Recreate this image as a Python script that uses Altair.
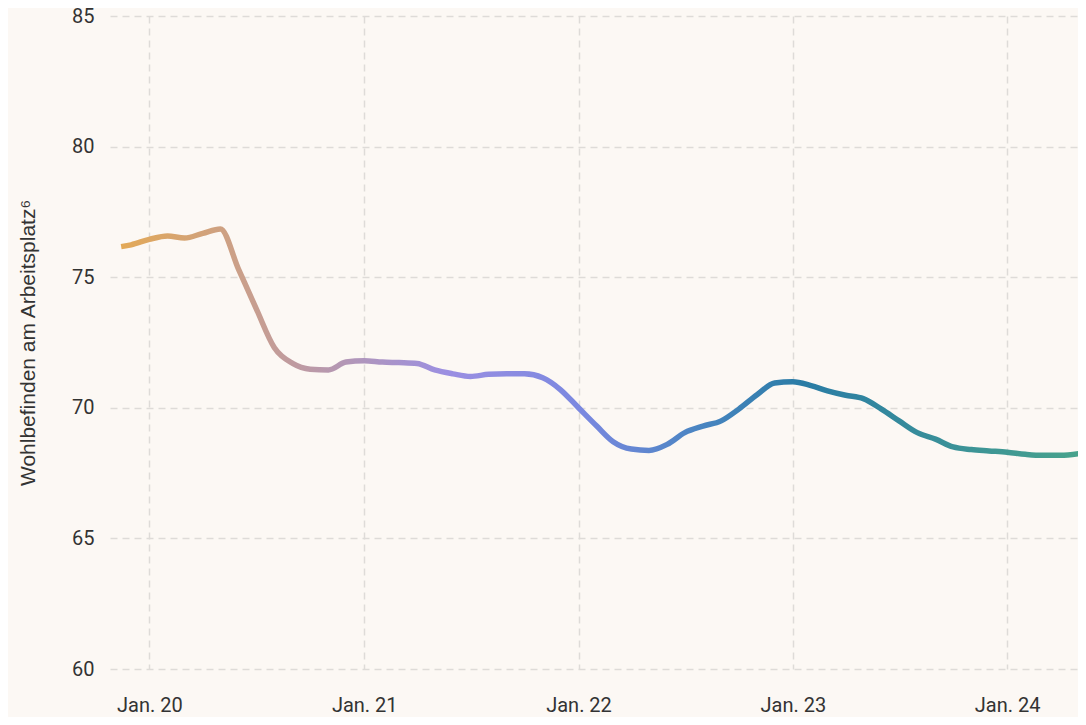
import altair as alt
import pandas as pd

# Values
dates = [
    "2019-11-14", "2019-12-01", "2020-01-01", "2020-02-01", "2020-03-01", "2020-04-01",
    "2020-05-01", "2020-06-01", "2020-07-01", "2020-08-01", "2020-09-01", "2020-10-01",
    "2020-11-01", "2020-12-01", "2021-01-01", "2021-02-01", "2021-03-01", "2021-04-01",
    "2021-05-01", "2021-06-01", "2021-07-01", "2021-08-01", "2021-09-01", "2021-10-01",
    "2021-11-01", "2021-12-01", "2022-01-01", "2022-02-01", "2022-03-01", "2022-04-01",
    "2022-05-01", "2022-06-01", "2022-07-01", "2022-08-01", "2022-09-01", "2022-10-01",
    "2022-11-01", "2022-12-01", "2023-01-01", "2023-02-01", "2023-03-01", "2023-04-01",
    "2023-05-01", "2023-06-01", "2023-07-01", "2023-08-01", "2023-09-01", "2023-10-01",
    "2023-11-01", "2023-12-01", "2024-01-01", "2024-02-01", "2024-03-01", "2024-04-01",
    "2024-05-07",
]
values = [
    76.17, 76.24, 76.45, 76.58, 76.5, 76.68,
    76.85, 75.3, 73.8, 72.3, 71.7, 71.48,
    71.45, 71.75, 71.8, 71.75, 71.73, 71.7,
    71.45, 71.3, 71.2, 71.28, 71.3, 71.3,
    71.15, 70.7, 70.0, 69.3, 68.7, 68.42,
    68.37, 68.6, 69.05, 69.3, 69.5, 69.95,
    70.5, 70.95, 71.0, 70.85, 70.65, 70.48,
    70.35, 69.95, 69.5, 69.05, 68.8, 68.5,
    68.4, 68.35, 68.3, 68.22, 68.18, 68.18,
    68.26,
]
y_ticks = [60, 65, 70, 75, 80, 85]
x_tick_years = [2020, 2021, 2022, 2023, 2024]
y_title = "Wohlbefinden am Arbeitsplatz\u2076"

df = pd.DataFrame({"date": dates, "value": values})

gradient = alt.Gradient(
    gradient="linear",
    x1=0, x2=1, y1=0, y2=0,
    stops=[
        alt.GradientStop(color="#e3a957", offset=0.0),
        alt.GradientStop(color="#bd9aa4", offset=0.19),
        alt.GradientStop(color="#9b8fe2", offset=0.34),
        alt.GradientStop(color="#7a88e0", offset=0.48),
        alt.GradientStop(color="#4a85c2", offset=0.60),
        alt.GradientStop(color="#2a7ca5", offset=0.71),
        alt.GradientStop(color="#48a38c", offset=1.0),
    ],
)

x_values = [alt.DateTime(year=y, month=1, date=1, utc=True) for y in x_tick_years]

chart = (
    alt.Chart(df)
    .mark_line(color=gradient, strokeWidth=5.5, interpolate="monotone", strokeCap="butt")
    .encode(
        x=alt.X(
            "date:T",
            scale=alt.Scale(
                type="utc",
                domain=[
                    alt.DateTime(year=2019, month=10, date=26, utc=True),
                    alt.DateTime(year=2024, month=5, date=28, utc=True),
                ],
                nice=False,
            ),
            axis=alt.Axis(
                values=x_values,
                labelExpr="'Jan. ' + utcFormat(datum.value, '%y')",
                title=None,
                domain=False,
                ticks=False,
                labelPadding=26,
                labelFont="Roboto",
                labelFontSize=20,
                labelColor="#333333",
                labelFlush=False,
                labelOverlap=False,
                gridDash=[7, 5],
                gridColor="#dedbd8",
                gridWidth=1.5,
            ),
        ),
        y=alt.Y(
            "value:Q",
            scale=alt.Scale(domain=[60, 85], nice=False, zero=False),
            axis=alt.Axis(
                values=y_ticks,
                title=y_title,
                domain=False,
                ticks=False,
                labelPadding=16,
                labelFont="Roboto",
                labelFontSize=20,
                labelColor="#333333",
                gridDash=[7, 5],
                gridColor="#dedbd8",
                gridWidth=1.5,
                titleFont="Liberation Sans",
                titleFontSize=21,
                titleFontWeight="normal",
                titleColor="#333333",
                titleX=-82,
                titleY=326.5,
                titleAngle=270,
                titleAlign="center",
                titleBaseline="middle",
            ),
        ),
    )
    .properties(
        width=984,
        height=653,
        background="#fcf8f4",
        autosize=alt.AutoSizeParams(type="none"),
        padding={"left": 102, "top": 8, "right": -16, "bottom": 48},
    )
    .configure_view(stroke=None)
)

chart.save("out.html", embed_options={"renderer": "svg", "actions": False})
